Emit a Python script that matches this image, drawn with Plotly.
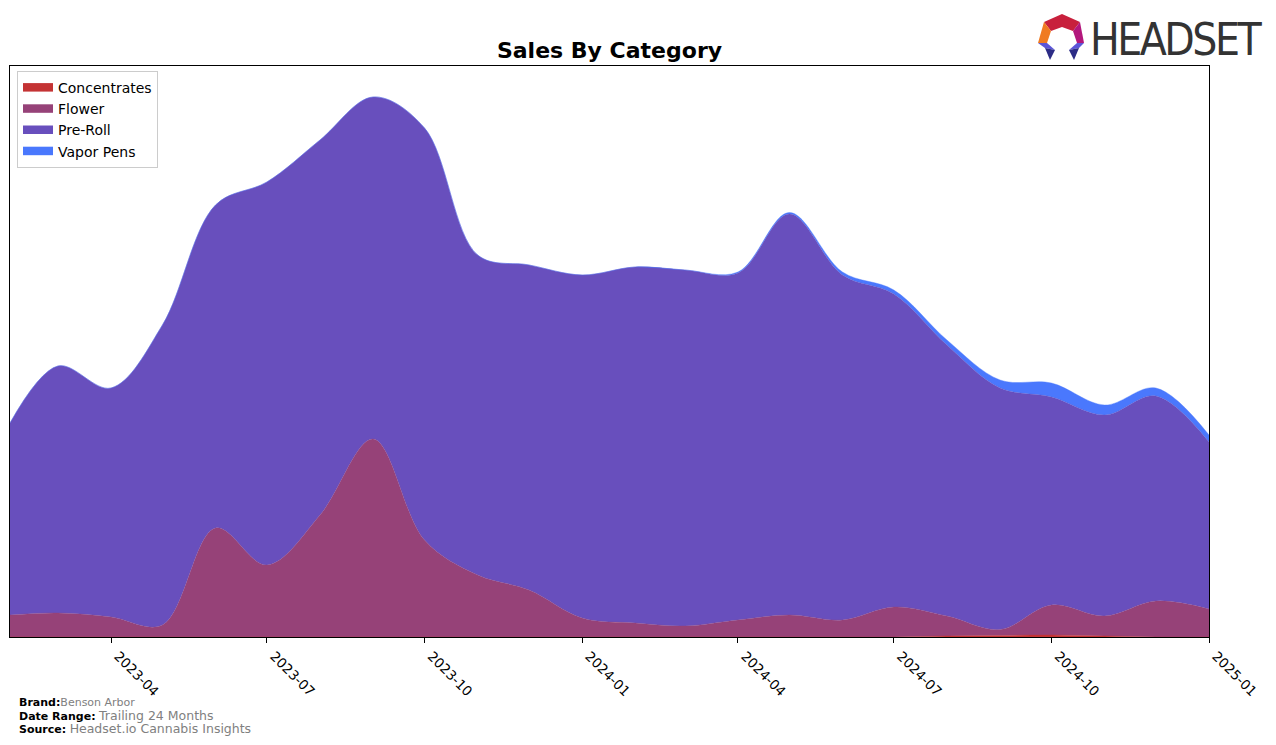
import plotly.graph_objects as go

W, H = 1276, 745
L, R, T, B = 10, 1209, 66, 637

months = ["2023-02-01", "2023-03-01", "2023-04-01", "2023-05-01", "2023-06-01", "2023-07-01",
          "2023-08-01", "2023-09-01", "2023-10-01", "2023-11-01", "2023-12-01", "2024-01-01",
          "2024-02-01", "2024-03-01", "2024-04-01", "2024-05-01", "2024-06-01", "2024-07-01",
          "2024-08-01", "2024-09-01", "2024-10-01", "2024-11-01", "2024-12-01", "2025-01-01"]

concentrates = [0, 0, 0, 0, 0, 0, 0, 0, 0, 0, 0, 0,
                0, 0, 0, 0, 0, 0, 1, 1.5, 2, 1, 0, 0]
flower = [22, 24, 20, 12, 109, 72, 122, 198, 97, 62, 47, 19,
          14, 11, 17, 22, 17, 30, 20, 6, 30, 20, 36, 28]
preroll = [192, 247, 229, 300, 323, 383, 375, 342, 412, 320, 325, 343,
           356, 356, 347, 401, 345, 313, 271, 241.5, 208, 201, 205, 167]
vapor = [0, 0, 0, 0, 0, 0, 0, 0, 0, 0, 0, 0,
         0, 0, 1, 1.5, 3, 4, 5, 8, 14, 10, 8, 7]

names = ["Concentrates", "Flower", "Pre-Roll", "Vapor Pens"]
colors = ["#c43334", "#964278", "#684fbd", "#4a78fd"]
series = [concentrates, flower, preroll, vapor]

tick_vals = ["2023-04-01", "2023-07-01", "2023-10-01", "2024-01-01",
             "2024-04-01", "2024-07-01", "2024-10-01", "2025-01-01"]
tick_text = ["2023-04", "2023-07", "2023-10", "2024-01",
             "2024-04", "2024-07", "2024-10", "2025-01"]

fig = go.Figure()
for name, col, vals in zip(names, colors, series):
    fig.add_trace(go.Scatter(
        x=months, y=vals, name=name, stackgroup="one", mode="lines",
        line=dict(width=0.4, color=col, shape="spline", smoothing=1.0),
        fillcolor=col,
    ))


def px(x):
    return (x - L) / (R - L)


def py(y):
    return (B - y) / (B - T)


shapes = []
logo_polys = [
    ([(1044, 22), (1062, 14), (1080, 22), (1073, 31), (1062, 27), (1051, 31)], "#c8203c"),
    ([(1044, 22), (1051, 31), (1047, 43), (1038, 43)], "#f07b22"),
    ([(1080, 22), (1084, 43), (1077, 43), (1073, 31)], "#b3177c"),
    ([(1038, 43), (1047, 43), (1055, 50), (1045, 48)], "#5b55d8"),
    ([(1045, 48), (1055, 50), (1050, 60)], "#2c2c86"),
    ([(1084, 43), (1077, 43), (1069, 50), (1079, 48)], "#5b55d8"),
    ([(1079, 48), (1069, 50), (1074, 60)], "#2c2c86"),
]
for pts, c in logo_polys:
    path = "M " + " L ".join(f"{px(x):.5f},{py(y):.5f}" for x, y in pts) + " Z"
    shapes.append(dict(type="path", xref="paper", yref="paper", path=path,
                       fillcolor=c, line=dict(width=0), layer="above"))

annotations = [
    dict(text="<span style='letter-spacing:-2.5px'>HEADSET</span>", xref="paper", yref="paper",
         x=px(1088), y=py(39),
         xanchor="left", yanchor="middle", showarrow=False,
         font=dict(family="DejaVu Sans Condensed, Liberation Sans Narrow, DejaVu Sans, sans-serif",
                   size=44, color="#333333")),
    dict(text="<b>Brand:</b><span style='color:#808080'>Benson Arbor</span>",
         xref="paper", yref="paper", x=px(17), y=py(702), xanchor="left", yanchor="middle",
         showarrow=False, font=dict(family="DejaVu Sans", size=11, color="black")),
    dict(text="<b>Date Range:</b> <span style='color:#808080;font-size:12.5px'>Trailing 24 Months</span>",
         xref="paper", yref="paper", x=px(17), y=py(715.5), xanchor="left", yanchor="middle",
         showarrow=False, font=dict(family="DejaVu Sans", size=11, color="black")),
    dict(text="<b>Source:</b> <span style='color:#808080;font-size:12.5px'>Headset.io Cannabis Insights</span>",
         xref="paper", yref="paper", x=px(17), y=py(728.5), xanchor="left", yanchor="middle",
         showarrow=False, font=dict(family="DejaVu Sans", size=11, color="black")),
]

fig.update_layout(
    width=W, height=H, autosize=False,
    margin=dict(l=L, r=W - R, t=T, b=H - B, pad=0),
    paper_bgcolor="white", plot_bgcolor="white",
    font=dict(family="DejaVu Sans", color="black"),
    title=dict(text="<b>Sales By Category</b>", x=0.5, xref="paper", xanchor="center",
               y=1 - 50 / H, yref="container", yanchor="middle",
               font=dict(family="DejaVu Sans", size=22, color="black")),
    showlegend=True,
    legend=dict(x=px(17), y=py(71), xanchor="left", yanchor="top",
                bgcolor="white", bordercolor="#cccccc", borderwidth=1,
                font=dict(family="DejaVu Sans", size=14, color="black"),
                traceorder="normal", itemsizing="constant", tracegroupgap=0),
    xaxis=dict(type="date", range=["2023-02-01", "2025-01-01"],
               tickvals=tick_vals, ticktext=tick_text, tickangle=45,
               ticks="outside", ticklen=5, tickcolor="black", tickwidth=1,
               ticklabelshift=7,
               tickfont=dict(family="DejaVu Sans", size=13.5, color="black"),
               showgrid=False, zeroline=False,
               showline=True, linecolor="black", linewidth=1, mirror=True),
    yaxis=dict(range=[0, B - T], showticklabels=False, ticks="",
               showgrid=False, zeroline=False,
               showline=True, linecolor="black", linewidth=1, mirror=True),
    shapes=shapes,
    annotations=annotations,
)

fig.write_html("out.html")
